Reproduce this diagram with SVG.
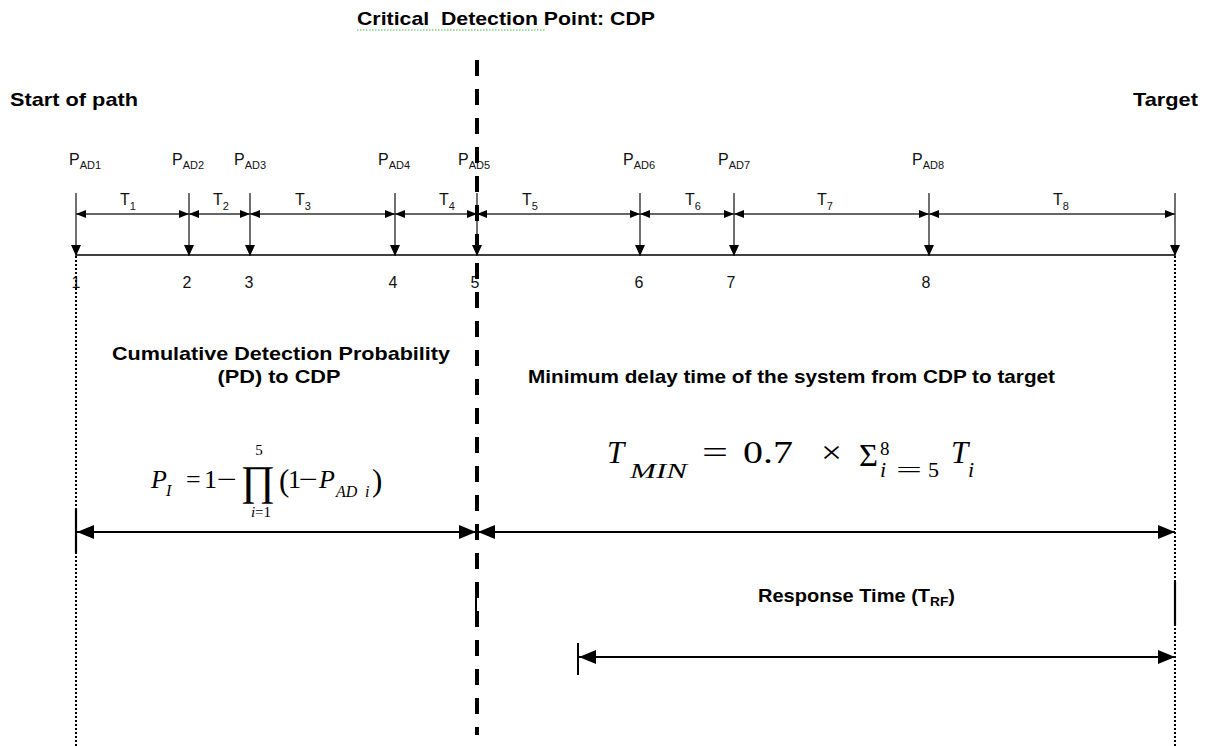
<svg xmlns="http://www.w3.org/2000/svg" width="1207" height="746" viewBox="0 0 1207 746">
<style>
.b{font-family:"Liberation Sans",Arial,sans-serif;font-weight:bold;fill:#000}
.r{font-family:"Liberation Sans",Arial,sans-serif;fill:#111}
.m{font-family:"Liberation Serif","DejaVu Serif",serif;fill:#000}
.mi{font-family:"Liberation Serif","DejaVu Serif",serif;font-style:italic;fill:#000}
.tick{stroke:#222;stroke-width:1.3;fill:none}
.dim{stroke:#333;stroke-width:1.3;fill:none}
.big{stroke:#000;stroke-width:2.2;fill:none}
.dot{stroke:#000;stroke-width:2;stroke-dasharray:2 2;fill:none}
</style>
<defs>
<marker id="sa" viewBox="0 0 10 8" refX="10" refY="4" markerWidth="10" markerHeight="8" markerUnits="userSpaceOnUse" orient="auto-start-reverse"><path d="M0,0 L10,4 L0,8 z" fill="#000"/></marker>
<marker id="ta" viewBox="0 0 11 10" refX="11" refY="5" markerWidth="11" markerHeight="10" markerUnits="userSpaceOnUse" orient="auto"><path d="M0,0 L11,5 L0,10 z" fill="#000"/></marker>
<marker id="ba" viewBox="0 0 17 14" refX="17" refY="7" markerWidth="17" markerHeight="14" markerUnits="userSpaceOnUse" orient="auto-start-reverse"><path d="M0,0 L17,7 L0,14 z" fill="#000"/></marker>
</defs>
<rect width="1207" height="746" fill="#fff"/>

<g id="title">
<text class="b" x="357" y="25" font-size="19" textLength="298" lengthAdjust="spacingAndGlyphs" xml:space="preserve">Critical  Detection Point: CDP</text>
<line x1="357" y1="30" x2="545" y2="30" stroke="#44bb44" stroke-width="1.2" stroke-dasharray="1.5 1.5"/>
</g>
<g id="start-label"><text class="b" x="10" y="106" font-size="19" textLength="128" lengthAdjust="spacingAndGlyphs">Start of path</text></g>
<g id="target-label"><text class="b" x="1133" y="106" font-size="19" textLength="65" lengthAdjust="spacingAndGlyphs">Target</text></g>

<g id="pad-labels" class="r">
<text x="69" y="165" font-size="16">P<tspan font-size="11" dy="4">AD1</tspan></text>
<text x="172" y="165" font-size="16">P<tspan font-size="11" dy="4">AD2</tspan></text>
<text x="234" y="165" font-size="16">P<tspan font-size="11" dy="4">AD3</tspan></text>
<text x="378" y="165" font-size="16">P<tspan font-size="11" dy="4">AD4</tspan></text>
<text x="458" y="165" font-size="16">P<tspan font-size="11" dy="4">AD5</tspan></text>
<text x="623" y="165" font-size="16">P<tspan font-size="11" dy="4">AD6</tspan></text>
<text x="718" y="165" font-size="16">P<tspan font-size="11" dy="4">AD7</tspan></text>
<text x="912" y="165" font-size="16">P<tspan font-size="11" dy="4">AD8</tspan></text>
</g>

<g id="t-labels" class="r">
<text x="120" y="205" font-size="16">T<tspan font-size="11" dy="5">1</tspan></text>
<text x="213" y="205" font-size="16">T<tspan font-size="11" dy="5">2</tspan></text>
<text x="295" y="205" font-size="16">T<tspan font-size="11" dy="5">3</tspan></text>
<text x="439" y="205" font-size="16">T<tspan font-size="11" dy="5">4</tspan></text>
<text x="522" y="205" font-size="16">T<tspan font-size="11" dy="5">5</tspan></text>
<text x="685" y="205" font-size="16">T<tspan font-size="11" dy="5">6</tspan></text>
<text x="817" y="205" font-size="16">T<tspan font-size="11" dy="5">7</tspan></text>
<text x="1053" y="205" font-size="16">T<tspan font-size="11" dy="5">8</tspan></text>
</g>

<g id="numbers" class="r" font-size="16" text-anchor="middle">
<text x="76" y="288">1</text>
<text x="187" y="288">2</text>
<text x="249" y="288">3</text>
<text x="393" y="288">4</text>
<text x="475" y="288">5</text>
<text x="639" y="288">6</text>
<text x="731" y="288">7</text>
<text x="926" y="288">8</text>
</g>

<g id="connectors">
<line x1="76" y1="255" x2="1175" y2="255" stroke="#000" stroke-width="1.5"/>
<g class="tick" marker-end="url(#ta)">
<line x1="76" y1="193" x2="76" y2="256"/>
<line x1="189" y1="193" x2="189" y2="256"/>
<line x1="250" y1="193" x2="250" y2="256"/>
<line x1="395" y1="193" x2="395" y2="256"/>
<line x1="477" y1="193" x2="477" y2="256"/>
<line x1="640" y1="193" x2="640" y2="256"/>
<line x1="734" y1="193" x2="734" y2="256"/>
<line x1="929" y1="193" x2="929" y2="256"/>
<line x1="1175" y1="193" x2="1175" y2="256"/>
</g>
<g class="dim" marker-start="url(#sa)" marker-end="url(#sa)">
<line x1="76" y1="214" x2="189" y2="214"/>
<line x1="189" y1="214" x2="250" y2="214"/>
<line x1="250" y1="214" x2="395" y2="214"/>
<line x1="395" y1="214" x2="477" y2="214"/>
<line x1="477" y1="214" x2="640" y2="214"/>
<line x1="640" y1="214" x2="734" y2="214"/>
<line x1="734" y1="214" x2="929" y2="214"/>
<line x1="929" y1="214" x2="1175" y2="214"/>
</g>
<line x1="477" y1="60" x2="477" y2="735" stroke="#000" stroke-width="4" stroke-dasharray="16 13"/>
<line x1="476" y1="583" x2="476" y2="625" stroke="#000" stroke-width="2"/>
<line class="dot" x1="76" y1="256" x2="76" y2="746"/>
<line class="dot" x1="1175" y1="256" x2="1175" y2="746"/>
<line x1="76" y1="509" x2="76" y2="553" stroke="#000" stroke-width="2.2"/>
<line x1="1175" y1="582" x2="1175" y2="625" stroke="#000" stroke-width="2.2"/>
<line x1="578" y1="643" x2="578" y2="675" stroke="#000" stroke-width="2"/>
<g class="big" marker-start="url(#ba)" marker-end="url(#ba)">
<line x1="77" y1="532" x2="476" y2="532"/>
<line x1="478" y1="532" x2="1175" y2="532"/>
<line x1="579" y1="657" x2="1175" y2="657"/>
</g>
</g>

<g id="pd-section">
<text class="b" x="281" y="360" font-size="19" text-anchor="middle" textLength="338" lengthAdjust="spacingAndGlyphs">Cumulative Detection Probability</text>
<text class="b" x="279" y="383" font-size="19" text-anchor="middle" textLength="123" lengthAdjust="spacingAndGlyphs">(PD) to CDP</text>
<text class="mi" x="151" y="488" font-size="26">P</text>
<text class="mi" x="166" y="496" font-size="16">I</text>
<text class="m" x="186" y="488" font-size="26">=</text>
<text class="m" x="204" y="488" font-size="26">1</text>
<text class="m" x="217" y="488" font-size="26" textLength="20" lengthAdjust="spacingAndGlyphs">−</text>
<text class="m" x="258" y="495" font-size="42" text-anchor="middle">∏</text>
<text class="m" x="259" y="455" font-size="15" text-anchor="middle">5</text>
<text class="m" x="261" y="517" font-size="15" text-anchor="middle"><tspan font-style="italic">i</tspan>=1</text>
<text class="m" x="279" y="491" font-size="31">(</text>
<text class="m" x="288" y="488" font-size="26">1</text>
<text class="m" x="299" y="488" font-size="26" textLength="19" lengthAdjust="spacingAndGlyphs">−</text>
<text class="mi" x="319" y="488" font-size="26">P</text>
<text class="mi" x="336" y="497" font-size="16">AD</text>
<text class="mi" x="365" y="497" font-size="16">i</text>
<text class="m" x="372" y="491" font-size="31">)</text>
</g>

<g id="tmin-section">
<text class="b" x="528" y="383" font-size="19" textLength="527" lengthAdjust="spacingAndGlyphs">Minimum delay time of the system from CDP to target</text>
<text class="mi" x="607" y="463" font-size="31">T</text>
<text class="mi" x="630" y="478" font-size="22" textLength="57" lengthAdjust="spacingAndGlyphs">MIN</text>
<text class="m" x="702" y="463" font-size="31" textLength="26" lengthAdjust="spacingAndGlyphs">=</text>
<text class="m" x="743" y="463" font-size="31" textLength="50" lengthAdjust="spacingAndGlyphs">0.7</text>
<text class="m" x="821" y="463" font-size="31" textLength="21" lengthAdjust="spacingAndGlyphs">×</text>
<text class="m" x="859" y="466" font-size="31" textLength="19" lengthAdjust="spacingAndGlyphs">Σ</text>
<text class="m" x="880" y="455" font-size="19">8</text>
<text class="mi" x="880" y="477" font-size="22">i</text>
<text class="m" x="896" y="477" font-size="22" textLength="26" lengthAdjust="spacingAndGlyphs">=</text>
<text class="m" x="928" y="477" font-size="22">5</text>
<text class="mi" x="951" y="463" font-size="31">T</text>
<text class="mi" x="968" y="477" font-size="22">i</text>
</g>

<g id="response-section">
<text class="b" x="758" y="602" font-size="19" textLength="197" lengthAdjust="spacingAndGlyphs">Response Time (T<tspan font-size="13" dy="4">RF</tspan><tspan dy="-4">)</tspan></text>
</g>
</svg>
